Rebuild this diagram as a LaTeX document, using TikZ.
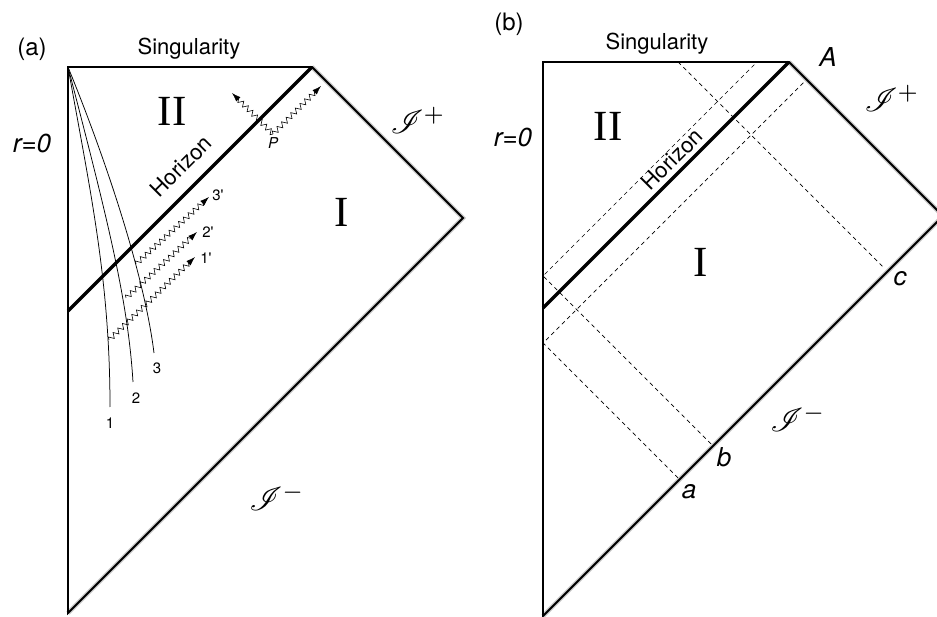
\documentclass[tikz,border=0pt]{standalone}
\usepackage{fontspec}
\setmainfont{TeX Gyre Heros}
\newfontfamily\timesfont{Liberation Serif}
\usepackage{mathrsfs}
\usetikzlibrary{arrows.meta,decorations.pathmorphing,calc}

\begin{document}
\begin{tikzpicture}[x=1pt, y=-1pt,
  every node/.style={inner sep=0pt},
  edge/.style={line width=1.8pt, line join=miter},
  horiz/.style={line width=3.2pt},
  shadowline/.style={shift={(1.5,2.5)}, line width=4.5pt, black!22},
  shell/.style={line width=0.75pt},
  wave/.style={decorate, decoration={zigzag, amplitude=2.6pt, segment length=6.5pt, post length=8pt},
               line width=0.6pt, -{Latex[length=9pt,width=6pt]}},
  ray/.style={dash pattern=on 4pt off 3.5pt, line width=0.7pt},
  lbl/.style={font=\fontsize{22}{26}\selectfont},
  tag/.style={font=\fontsize{24}{28}\selectfont},
  ital/.style={font=\fontsize{26}{30}\selectfont\itshape},
  num/.style={font=\fontsize{15}{18}\selectfont},
  region/.style={font=\timesfont\fontsize{43}{50}\selectfont},
  scri/.style={scale=3.3}
]
  \useasboundingbox (0,0) rectangle (937,617);

  \coordinate (a-tl) at (68,67);
  \coordinate (a-tr) at (312,67);
  \coordinate (a-r) at (463,218);
  \coordinate (a-bl) at (68,613);
  \coordinate (a-hz) at (68,311);

  \draw[shadowline] (a-tr) -- (a-r) -- (a-bl);
  \draw[edge] (a-tl) -- (a-tr) -- (a-r) -- (a-bl) -- cycle;
  \draw[horiz] (a-tr) -- (a-hz);

  \draw[shell] (a-tl) .. controls (90,190) and (110,280) .. (110,407);
  \draw[shell] (a-tl) .. controls (107,217) and (128,300) .. (133,382);
  \draw[shell] (a-tl) .. controls (110,170) and (145,280) .. (154,353);
  \node[num] (n1) at (110,423) {1};
  \node[num] (n2) at (136,398) {2};
  \node[num] (n3) at (157,368) {3};

  \coordinate (s1) at (109,340);
  \coordinate (e1) at (195,257);
  \coordinate (s2) at (126,298);
  \coordinate (e2) at (197,232);
  \coordinate (s3) at (136,264);
  \coordinate (e3) at (209,197);
  \draw[wave] (s1) -- (e1);
  \draw[wave] (s2) -- (e2);
  \draw[wave] (s3) -- (e3);
  \node[num] (m1) at (206,258) {1\textquotesingle};
  \node[num] (m2) at (208,232) {2\textquotesingle};
  \node[num] (m3) at (218,195) {3\textquotesingle};

  \coordinate (p) at (273,134);
  \coordinate (pl) at (232,93);
  \coordinate (pr) at (321,86);
  \draw[wave] (p) -- (pl);
  \draw[wave] (p) -- (pr);
  \node[num, font=\fontsize{15}{18}\selectfont\itshape] (pp) at (273,143) {P};

  \node[tag] (taga) at (32,49) {(a)};
  \node[lbl] (singa) at (189,49) {Singularity};
  \node[ital] (ra0) at (32,143) {r=0};
  \node[region] (twoa) at (172,111) {II};
  \node[region] (onea) at (342,212) {I};
  \node[scri] (scrpa) at (418,120) {$\mathscr{I}^{+}$};
  \node[scri] (scrma) at (277,497) {$\mathscr{I}^{-}$};
  \node[lbl, rotate=45] (hora) at (181,166) {Horizon};

  \coordinate (b-tl) at (543,62);
  \coordinate (b-tr) at (789,62);
  \coordinate (b-r) at (943,216);
  \coordinate (b-bl) at (543,616);
  \coordinate (b-hz) at (543,308);

  \coordinate (ra) at (678,478);
  \coordinate (rb) at (711,444);
  \coordinate (rc) at (884,268);
  \coordinate (ma) at (543,343);
  \coordinate (mb) at (543,276);
  \coordinate (ta) at (805,81);
  \coordinate (tb) at (757,62);
  \coordinate (tc) at (678,62);
  \draw[ray] (ra) -- (ma) -- (ta);
  \draw[ray] (rb) -- (mb) -- (tb);
  \draw[ray] (tc) -- (rc);

  \draw[shadowline] (b-tr) -- (b-r) -- (b-bl);
  \draw[edge] (b-tl) -- (b-tr) -- (b-r) -- (b-bl) -- cycle;
  \draw[horiz] (b-tr) -- (b-hz);

  \node[tag] (tagb) at (509,24) {(b)};
  \node[lbl] (singb) at (657,44) {Singularity};
  \node[ital] (pa) at (828,57) {A};
  \node[ital] (rb0) at (513,137) {r=0};
  \node[region] (twob) at (608,126) {II};
  \node[region] (oneb) at (701,262) {I};
  \node[scri] (scrpb) at (892,98) {$\mathscr{I}^{+}$};
  \node[scri] (scrmb) at (798,418) {$\mathscr{I}^{-}$};
  \node[lbl, rotate=45] (horb) at (672,159) {Horizon};
  \node[ital] (la) at (689,492) {a};
  \node[ital] (lb) at (724,457) {b};
  \node[ital] (lc) at (900,279) {c};
\end{tikzpicture}
\end{document}
